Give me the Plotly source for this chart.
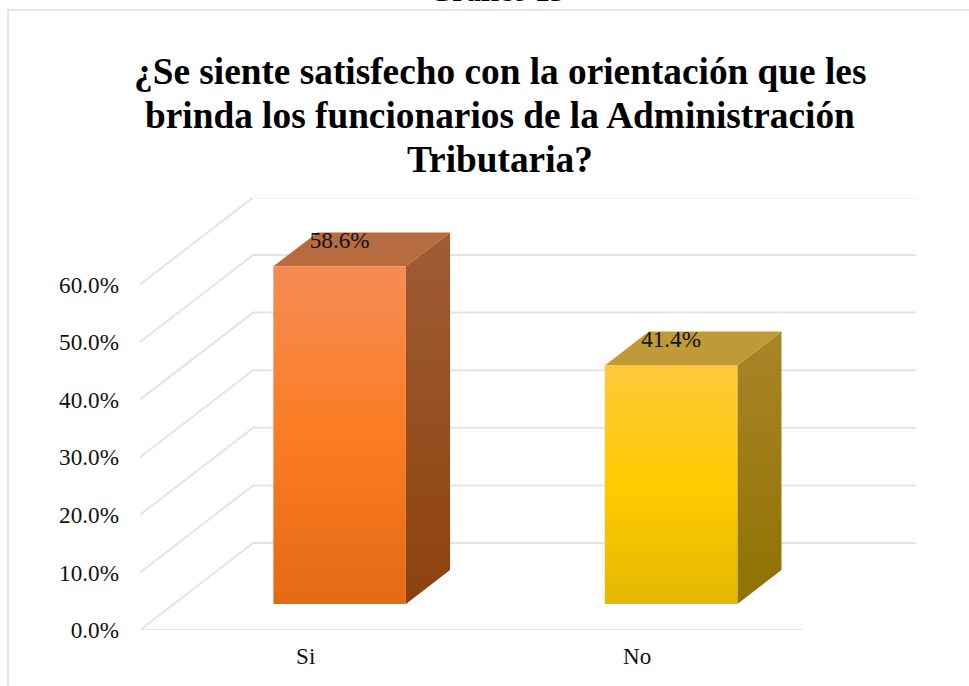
import plotly.graph_objects as go

# ---- data ----
categories = ["Si", "No"]
values = [0.586, 0.414]
value_labels = ["58.6%", "41.4%"]
axis_ticks = [0.0, 0.1, 0.2, 0.3, 0.4, 0.5, 0.6]
axis_tick_labels = ["0.0%", "10.0%", "20.0%", "30.0%", "40.0%", "50.0%", "60.0%"]
title_lines = ["¿Se siente satisfecho con la orientación que les",
               "brinda los funcionarios de la Administración",
               "Tributaria?"]
heading = "Gráfico 13"

# ---- style ----
W, H = 969, 686
PLOT_L, PLOT_R, PLOT_T, PLOT_B = 140, 916, 198, 630
FONT = "Liberation Serif"
GRID = "#e1e5eb"
DEPTH_X = 113 / 331          # wall depth in category units
DEPTH_Y = 0.151              # wall depth in axis units
BAR_W = 0.4
F0, F1 = 0.30, 0.69          # bar depth slice along the floor
# colour scales run from the base of the bar to its top
faces = [
    dict(front=[[0, "#e56a14"], [0.5, "#fb7c24"], [1, "#f58c54"]],
         side=[[0, "#8c420c"], [1, "#a05c36"]], top="#b66b41"),
    dict(front=[[0, "#e5b800"], [0.5, "#ffcb00"], [1, "#ffc83c"]],
         side=[[0, "#8f7200"], [1, "#a98528"]], top="#c09a37"),
]
title_line_centres = [72, 116, 159]

fig = go.Figure()


def line_trace(xs, ys):
    fig.add_trace(go.Scatter(x=xs, y=ys, mode="lines", hoverinfo="skip", cliponaxis=False,
                             line=dict(color=GRID, width=2), showlegend=False))


# walls and floor
for t in axis_ticks:
    line_trace([-0.5, -0.5 + DEPTH_X, 1.5 + DEPTH_X], [t, t + DEPTH_Y, t + DEPTH_Y])
line_trace([-0.5, 1.5], [axis_ticks[0], axis_ticks[0]])


def face(xs, ys, **fill):
    fig.add_trace(go.Scatter(x=xs + xs[:1], y=ys + ys[:1], mode="lines", fill="toself",
                             line=dict(width=0), hoverinfo="skip", showlegend=False, **fill))


def vertical(scale):
    return dict(fillgradient=dict(type="vertical", colorscale=scale))


label_x, label_y = [], []
for i, (v, st) in enumerate(zip(values, faces)):
    x0 = i - BAR_W / 2 + DEPTH_X * F0
    x1 = i + BAR_W / 2 + DEPTH_X * F0
    b0 = DEPTH_Y * F0
    ddx = DEPTH_X * (F1 - F0)
    ddy = DEPTH_Y * (F1 - F0)
    # side
    face([x1, x1 + ddx, x1 + ddx, x1], [b0, b0 + ddy, b0 + ddy + v, b0 + v], **vertical(st["side"]))
    # top
    face([x0, x1, x1 + ddx, x0 + ddx], [b0 + v, b0 + v, b0 + v + ddy, b0 + v + ddy], fillcolor=st["top"])
    # front
    face([x0, x1, x1, x0], [b0, b0, b0 + v, b0 + v], **vertical(st["front"]))
    label_x.append((x0 + x1) / 2)
    label_y.append(b0 + v + ddy * 0.72)

fig.add_trace(go.Scatter(x=label_x, y=label_y, mode="text", text=value_labels,
                         textposition="middle center", hoverinfo="skip", showlegend=False,
                         textfont=dict(family=FONT, size=23.2, color="#111111")))


def px(x):
    return (x - PLOT_L) / (PLOT_R - PLOT_L)


def py(y):
    return (PLOT_B - y) / (PLOT_B - PLOT_T)


title_notes = [dict(text=f"<b>{line}</b>", xref="paper", yref="paper", x=px(499.5), y=py(c),
                    xanchor="center", yanchor="middle", showarrow=False,
                    font=dict(family=FONT, size=37.3, color="#000000"))
               for line, c in zip(title_lines, title_line_centres)]

fig.update_layout(
    width=W, height=H,
    margin=dict(l=PLOT_L, r=W - PLOT_R, t=PLOT_T, b=H - PLOT_B, autoexpand=False),
    paper_bgcolor="white", plot_bgcolor="rgba(0,0,0,0)",
    showlegend=False,
    xaxis=dict(range=[-0.5, 1.5 + DEPTH_X], tickvals=[0, 1], ticktext=categories,
               showgrid=False, zeroline=False, showline=False, ticks="",
               ticklabelstandoff=10, tickfont=dict(family=FONT, size=23, color="#111111")),
    yaxis=dict(range=[0, 0.75], tickvals=axis_ticks, ticktext=axis_tick_labels,
               showgrid=False, zeroline=False, showline=False, ticks="",
               ticklabelstandoff=20, tickfont=dict(family=FONT, size=23.2, color="#111111")),
    shapes=[dict(type="path", xref="paper", yref="paper", layer="below",
                 path=f"M {px(8)} {py(H + 5)} L {px(8)} {py(10)} L {px(W + 5)} {py(10)}",
                 line=dict(color=GRID, width=2))],
    annotations=title_notes + [
        dict(text=f"<b>{heading}</b>", xref="paper", yref="paper",
             x=px(497), y=py(9.5), xanchor="center", yanchor="bottom", showarrow=False,
             font=dict(family=FONT, size=30, color="#000000"))],
)

fig.write_html("out.html", config={"displayModeBar": False},
               post_script="document.body.style.margin='0';document.body.style.overflow='hidden';")
